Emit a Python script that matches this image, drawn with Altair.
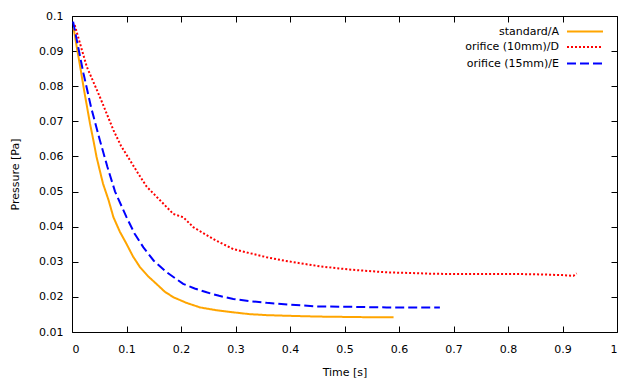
import altair as alt
import pandas as pd

# ---- data ----
series_names = ["standard/A", "orifice (10mm)/D", "orifice (15mm)/E"]
series_colors = ["#FFA500", "#FF0000", "#0000FF"]

t_a = [0.003, 0.010, 0.015, 0.022, 0.033, 0.040, 0.045, 0.051, 0.057, 0.067, 0.076, 0.088,
       0.100, 0.112, 0.125, 0.140, 0.155, 0.170, 0.186, 0.210, 0.235, 0.265, 0.296, 0.325,
       0.357, 0.400, 0.449, 0.500, 0.550, 0.590]
p_a = [0.0965, 0.0900, 0.0856, 0.0790, 0.0694, 0.0640, 0.0599, 0.0560, 0.0522, 0.0476, 0.0427,
       0.0385, 0.0351, 0.0315, 0.0284, 0.0258, 0.0237, 0.0215, 0.0199, 0.0183, 0.0170, 0.0162,
       0.0156, 0.0151, 0.0148, 0.0146, 0.0144, 0.0143, 0.0142, 0.0142]

t_d = [0.005, 0.027, 0.051, 0.076, 0.090, 0.106, 0.122, 0.137, 0.161, 0.186, 0.204, 0.223,
       0.245, 0.265, 0.296, 0.325, 0.357, 0.390, 0.418, 0.455, 0.490, 0.516, 0.550, 0.577,
       0.620, 0.660, 0.700, 0.740, 0.780, 0.822, 0.860, 0.900, 0.920, 0.926]
p_d = [0.0974, 0.0856, 0.0770, 0.0675, 0.0630, 0.0590, 0.0550, 0.0514, 0.0476, 0.0436, 0.0427,
       0.0398, 0.0378, 0.0360, 0.0336, 0.0325, 0.0313, 0.0303, 0.0296, 0.0287, 0.0281, 0.0277,
       0.0273, 0.0270, 0.0268, 0.0266, 0.0265, 0.0265, 0.0265, 0.0265, 0.0264, 0.0262, 0.0260,
       0.0267]

t_e = [0.002, 0.021, 0.035, 0.051, 0.065, 0.079, 0.100, 0.115, 0.131, 0.150, 0.174, 0.204,
       0.225, 0.247, 0.270, 0.296, 0.325, 0.357, 0.400, 0.449, 0.500, 0.577, 0.630, 0.675]
p_e = [0.0984, 0.0837, 0.0740, 0.0647, 0.0570, 0.0500, 0.0427, 0.0380, 0.0341, 0.0303, 0.0270,
       0.0237, 0.0224, 0.0213, 0.0203, 0.0194, 0.0188, 0.0183, 0.0178, 0.0173, 0.0172, 0.0170,
       0.0170, 0.0170]

x_ticks = [0, 0.1, 0.2, 0.3, 0.4, 0.5, 0.6, 0.7, 0.8, 0.9, 1.0]
y_ticks = [0.01, 0.02, 0.03, 0.04, 0.05, 0.06, 0.07, 0.08, 0.09, 0.1]

W, H = 545, 316
FONT = "DejaVu Sans"

df = pd.concat([
    pd.DataFrame({"series": series_names[0], "t": t_a, "p": p_a}),
    pd.DataFrame({"series": series_names[1], "t": t_d, "p": p_d}),
    pd.DataFrame({"series": series_names[2], "t": t_e, "p": p_e}),
])

xscale = alt.Scale(domain=[0, 1], nice=False, zero=False)
yscale = alt.Scale(domain=[0.01, 0.1], nice=False, zero=False)

dash_range = [[1, 0], [2, 2], [9, 4]]

lines = alt.Chart(df).mark_line(strokeWidth=2, clip=True).encode(
    x=alt.X("t:Q", scale=xscale, title="Time [s]",
            axis=alt.Axis(orient="bottom", values=x_ticks, format="~g", ticks=False,
                          domain=False, grid=False, labelPadding=11, titlePadding=12)),
    y=alt.Y("p:Q", scale=yscale, title="Pressure [Pa]",
            axis=alt.Axis(orient="left", values=y_ticks, format="~g", ticks=False,
                          domain=False, grid=False, labelPadding=9, titlePadding=18)),
    color=alt.Color("series:N", scale=alt.Scale(domain=series_names, range=series_colors), legend=None),
    strokeDash=alt.StrokeDash("series:N", scale=alt.Scale(domain=series_names, range=dash_range), legend=None),
    detail="series:N",
)

tick_axis_common = dict(labels=False, domain=False, grid=False, ticks=True, tickSize=6,
                        tickColor="black", tickWidth=1, title=None)

# inward ticks on bottom and left edges
ticks1 = alt.Chart(df).mark_line(opacity=0).encode(
    x=alt.X("t:Q", scale=xscale, axis=alt.Axis(orient="top", offset=-H, values=x_ticks, **tick_axis_common)),
    y=alt.Y("p:Q", scale=yscale, axis=alt.Axis(orient="right", offset=-W, values=y_ticks, **tick_axis_common)),
    detail="series:N",
)
# mirrored inward ticks on top and right edges
ticks2 = alt.Chart(df).mark_line(opacity=0).encode(
    x=alt.X("t:Q", scale=xscale, axis=alt.Axis(orient="bottom", offset=-H, values=x_ticks, **tick_axis_common)),
    y=alt.Y("p:Q", scale=yscale, axis=alt.Axis(orient="left", offset=-W, values=y_ticks, **tick_axis_common)),
    detail="series:N",
)

# legend (gnuplot style: right-aligned label, sample line to the right)
legend_layers = []
legend_y = [15.5, 31.0, 47.5]
for name, col, dash, ly in zip(series_names, series_colors, dash_range, legend_y):
    ld = pd.DataFrame({"label": [name]})
    legend_layers.append(
        alt.Chart(ld).mark_text(align="right", baseline="middle", font=FONT, fontSize=11, color="black")
        .encode(text="label:N", x=alt.value(487), y=alt.value(ly))
    )
    legend_layers.append(
        alt.Chart(ld).mark_rule(color=col, strokeWidth=2, strokeDash=dash)
        .encode(x=alt.value(495), x2=alt.value(531), y=alt.value(ly))
    )

chart = alt.layer(lines, ticks1, ticks2, *legend_layers).resolve_axis(
    x="independent", y="independent"
).properties(
    width=W, height=H,
    autosize=alt.AutoSizeParams(type="none"),
    padding={"left": 64, "top": 8, "right": 8, "bottom": 52},
).configure_view(
    stroke="black", strokeWidth=1
).configure_axis(
    labelFont=FONT, titleFont=FONT, labelFontSize=11, titleFontSize=11,
    labelColor="black", titleColor="black", titleFontWeight="normal",
)

chart.save("out.html", embed_options={"renderer": "svg", "actions": False})
